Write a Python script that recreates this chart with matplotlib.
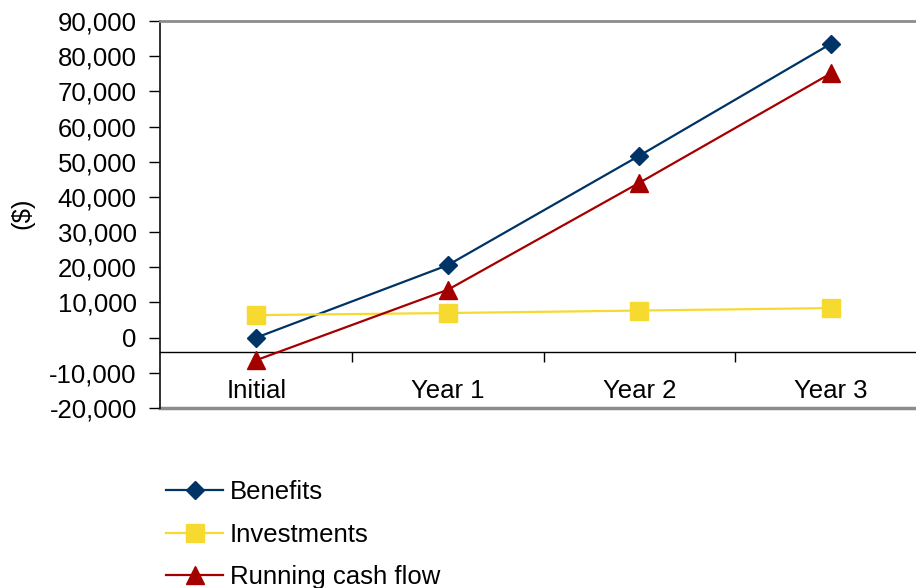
import matplotlib.pyplot as plt
from matplotlib.ticker import FuncFormatter, FixedLocator

plt.rcParams['font.family'] = ['Liberation Sans', 'DejaVu Sans']

# -----------------------------
# Data
# -----------------------------
periods = ["Initial", "Year 1", "Year 2", "Year 3"]
benefits = [0, 20600, 51700, 83500]
investments = [6400, 7000, 7700, 8400]
running_cash = [-6400, 13600, 44000, 75100]

NAVY = "#003366"
YELLOW = "#F6DA30"
RED = "#A50000"
FS = 18.5


def main():
    fig = plt.figure(figsize=(9.16, 5.88), dpi=100)
    ax = fig.add_axes([0.1752, 0.3061, 0.8363, 0.6582])

    x = list(range(len(periods)))
    ax.plot(x, benefits, color=NAVY, lw=1.6, marker="D", ms=9.2,
            mec=NAVY, mfc=NAVY, label="Benefits", zorder=3)
    ax.plot(x, investments, color=YELLOW, lw=1.6, marker="s", ms=12.5,
            mec=YELLOW, mfc=YELLOW, label="Investments", zorder=3)
    ax.plot(x, running_cash, color=RED, lw=1.6, marker="^", ms=12.5,
            mec=RED, mfc=RED, label="Running cash flow", zorder=3)

    ax.set_xlim(-0.5, 3.5)
    ax.set_ylim(-20000, 90000)

    # y axis
    ax.set_yticks(range(-20000, 90001, 10000))
    ax.yaxis.set_major_formatter(FuncFormatter(lambda v, p: f"{int(v):,}"))
    ax.tick_params(axis="y", direction="out", length=8, width=1,
                   labelsize=FS, pad=9, colors="black")

    # category axis crossing inside the plot
    ax.spines["bottom"].set_position(("data", -4000))
    ax.spines["bottom"].set_color("black")
    ax.spines["bottom"].set_linewidth(1.0)
    ax.set_xticks(x)
    ax.set_xticklabels(periods)
    ax.xaxis.set_minor_locator(FixedLocator([0.5, 1.5, 2.5, 3.5]))
    ax.tick_params(axis="x", which="major", length=0, labelsize=FS, pad=19.5)
    ax.tick_params(axis="x", which="minor", direction="out", length=7,
                   width=1, color="black")

    # frame
    ax.spines["left"].set_color("#202020")
    ax.spines["left"].set_linewidth(1.3)
    ax.spines["top"].set_color("#8c8c8c")
    ax.spines["top"].set_linewidth(2.0)
    ax.spines["right"].set_visible(False)
    ax.axhline(-20000, color="#8c8c8c", lw=2.5, clip_on=False, zorder=1)

    fig.text(22 / 916, 1 - 213 / 588, "($)", rotation=90, fontsize=FS,
             ha="center", va="center")

    fig.legend(loc="upper left", bbox_to_anchor=(166 / 916, 1 - 480 / 588),
               frameon=False, fontsize=FS, handlelength=2.22,
               handletextpad=0.27, labelspacing=0.72, borderpad=0,
               borderaxespad=0)

    fig.savefig("out.png", dpi=100)


if __name__ == "__main__":
    main()
